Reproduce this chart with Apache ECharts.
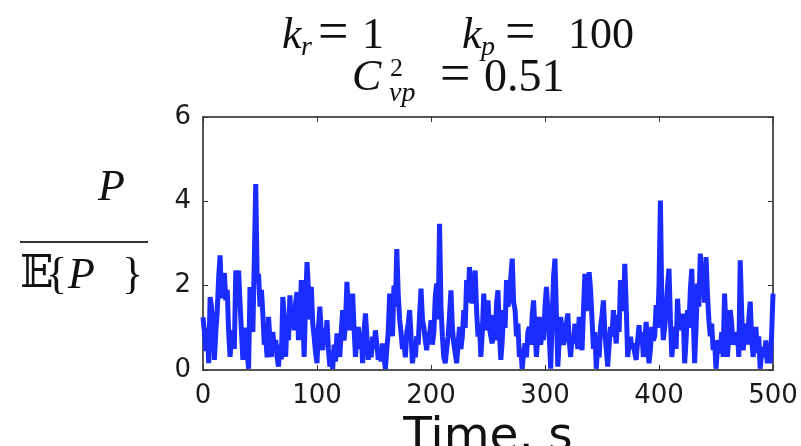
<!DOCTYPE html>
<html><head><meta charset="utf-8">
<script src="https://cdn.jsdelivr.net/npm/echarts@6/dist/echarts.min.js"></script>
<style>html,body{margin:0;padding:0;background:#fff}#c{width:801px;height:446px}</style>
</head><body><div id="c"></div>
<script>
// Sampling interval of the trace (s); sample i is at time i * dt
const dt = 1.25;
// P / E{P}, one value per sample (0 ... 500 s)
const values = [
1.25,0.9,0.45,1.0,0.16,1.73,1.5,1.1,
0.24,0.9,1.4,2.2,2.72,1.7,2.1,2.3,
1.65,1.9,0.9,0.31,0.8,0.94,0.5,2.36,
1.8,2.36,1.58,0.9,0.24,1.0,0.79,0.4,
0.03,1.97,1.4,0.9,2.6,4.41,2.2,2.28,
1.5,1.9,1.34,0.6,0.79,0.3,1.26,0.7,
0.31,0.9,0.5,0.71,0.3,0.08,0.6,0.25,
1.73,1.3,0.31,1.2,0.7,1.77,1.0,1.5,
0.94,1.6,1.85,0.71,1.2,2.13,1.3,0.31,
1.6,2.56,1.9,1.2,1.97,1.1,0.79,0.4,
0.16,1.0,1.5,0.9,0.47,1.0,0.6,1.18,
0.5,0.08,0.4,0.03,0.6,0.2,0.87,0.5,
0.31,0.9,1.42,0.7,1.1,2.09,1.4,0.94,
1.5,1.81,1.0,0.31,0.8,1.02,0.5,0.9,
0.16,0.9,1.34,0.8,0.24,0.6,0.3,0.79,
0.5,0.94,0.6,0.24,0.5,0.2,0.63,0.3,
0.03,0.5,0.9,1.81,1.3,0.8,2.0,1.5,
2.87,1.8,1.2,0.87,0.5,0.63,0.3,0.9,
1.1,1.42,0.8,0.16,0.5,0.3,0.8,0.6,
1.3,1.93,1.2,1.02,0.7,0.47,0.9,0.8,
1.18,0.6,0.9,1.73,2.05,1.2,3.47,1.5,
0.79,0.3,0.16,0.5,0.79,1.3,1.89,1.0,
0.63,0.4,0.16,0.6,1.02,0.5,0.8,1.42,
1.0,2.13,1.6,2.44,1.9,1.58,2.0,2.36,
1.4,0.79,1.1,0.31,0.9,1.81,1.3,0.94,
1.65,1.0,0.8,0.63,1.3,0.7,1.58,1.89,
0.9,0.24,0.7,1.42,1.0,2.13,1.5,1.73,
2.2,2.64,1.6,1.42,0.8,1.1,0.31,0.5,
0.03,0.4,0.63,0.3,0.9,1.02,0.6,1.3,
1.65,0.9,0.31,0.8,1.26,0.6,0.9,0.71,
1.5,1.97,1.42,0.8,0.03,1.2,2.21,2.64,
1.3,0.08,0.7,1.26,0.9,0.6,0.79,1.1,
1.34,0.7,0.31,0.8,0.63,1.1,0.9,0.5,
1.26,0.8,0.47,1.4,2.28,1.4,1.8,2.32,
1.89,1.2,0.5,0.9,0.03,0.6,0.3,1.02,
1.3,1.65,0.9,0.5,0.08,0.6,1.02,0.8,
1.42,1.0,0.63,1.3,0.9,2.13,1.9,1.4,
2.52,1.5,0.31,0.6,0.79,0.5,0.63,0.4,
0.24,0.7,1.06,0.6,0.9,0.31,0.7,1.14,
0.6,0.16,0.5,1.02,0.7,0.8,1.54,1.0,
2.0,4.02,1.5,0.71,1.0,1.42,2.0,2.4,
1.2,0.31,0.7,1.02,0.5,1.69,1.1,1.3,
0.94,1.34,0.16,0.7,1.42,1.0,1.9,2.4,
1.3,0.16,1.0,2.05,1.5,2.76,2.0,2.28,
1.6,2.68,1.8,1.18,0.8,1.1,0.47,0.7,
0.03,0.5,0.71,0.4,0.9,0.31,1.81,1.0,
0.31,0.8,1.42,1.1,0.6,0.79,0.6,0.9,
0.31,2.6,1.4,0.47,0.79,1.1,0.6,1.2,
1.62,0.8,0.31,0.7,1.02,0.4,0.8,0.03,
0.4,0.55,0.3,0.7,0.16,0.5,0.16,0.8,
1.81];
const xTicks = [0,100,200,300,400,500];
const yTicks = [0,2,4,6];

const data = values.map((v,i)=>[i*dt, v]);
const chart = echarts.init(document.getElementById('c'), null, {renderer:'canvas'});
const axisCol = '#555';
const tickFont = {fontFamily:'DejaVu Sans', fontSize:26, color:'#1a1a1a'};
const serif = '"Liberation Serif","DejaVu Serif",serif';
function txt(x,y,s,size,italic,font){
  return {type:'text', left:x, top:y, silent:true,
    style:{text:s, fontFamily:font||serif, fontSize:size, fontStyle: italic?'italic':'normal', fill:'#111'}};
}
chart.setOption({
  animation:false,
  grid:{left:203, right:28, top:117, bottom:76, outerBoundsMode:'none', containLabel:false},
  xAxis:[
    {type:'value', min:0, max:500, interval:100, position:'bottom',
     axisLine:{show:true, onZero:false, lineStyle:{color:axisCol, width:2}},
     axisTick:{show:true, inside:true, length:5, lineStyle:{color:'#333'}},
     splitLine:{show:false},
     axisLabel:Object.assign({margin:13, formatter:v=>xTicks.includes(v)?String(v):''}, tickFont),
     name:'Time, s', nameLocation:'middle', nameGap:26,
     nameTextStyle:{fontFamily:'DejaVu Sans', fontSize:47, color:'#111', verticalAlign:'top'}},
    {type:'value', min:0, max:500, interval:100, position:'top',
     axisLine:{show:true, onZero:false, lineStyle:{color:axisCol, width:2}},
     axisTick:{show:true, inside:true, length:5, lineStyle:{color:'#333'}},
     axisLabel:{show:false}, splitLine:{show:false}}
  ],
  yAxis:[
    {type:'value', min:0, max:6, interval:2, position:'left',
     axisLine:{show:true, onZero:false, lineStyle:{color:axisCol, width:2}},
     axisTick:{show:true, inside:true, length:5, lineStyle:{color:'#333'}},
     splitLine:{show:false},
     axisLabel:Object.assign({margin:12, formatter:v=>yTicks.includes(v)?String(v):''}, tickFont)},
    {type:'value', min:0, max:6, interval:2, position:'right',
     axisLine:{show:true, onZero:false, lineStyle:{color:axisCol, width:2}},
     axisTick:{show:true, inside:true, length:5, lineStyle:{color:'#333'}},
     axisLabel:{show:false}, splitLine:{show:false}}
  ],
  series:[{type:'line', data:data, xAxisIndex:0, yAxisIndex:0, showSymbol:false, symbol:'none',
    step:'end', lineStyle:{color:'#1a2cff', width:5}, z:1}],
  graphic:[
    txt(282,14,'k',44,true),
    txt(301,34,'r',28,true),
    txt(318,8,'=',54,false),
    txt(362,14,'1',44,false),
    txt(462,14,'k',44,true),
    txt(481,34,'p',28,true),
    txt(505,8,'=',54,false),
    txt(568,14,'100',44,false),
    txt(352,56,'C',44,true),
    txt(390,56,'2',26,false),
    txt(389,80,'vp',28,true),
    txt(440,50,'=',54,false),
    txt(484,56,'0.51',46,false),
    txt(98,166,'P',44,true),
    {type:'line', silent:true, shape:{x1:20,y1:242,x2:148,y2:242}, style:{stroke:'#333', lineWidth:2}},
    txt(20,254,'𝔼',44,false,'"DejaVu Serif","DejaVu Sans",serif'),
    txt(46,254,'{',44,false),
    txt(68,254,'P',44,true),
    txt(122,254,'}',44,false)
  ]
});
</script></body></html>
